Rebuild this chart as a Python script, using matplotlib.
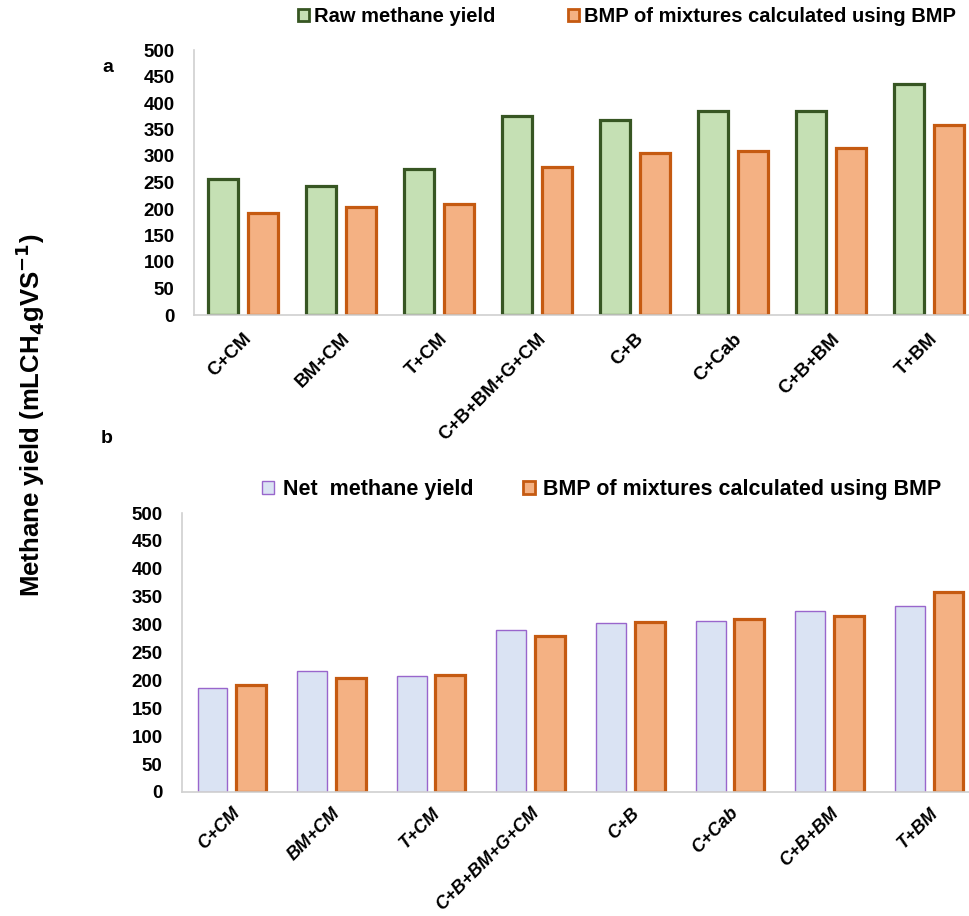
import numpy as np
import matplotlib
matplotlib.use("Agg")
import matplotlib.pyplot as plt
from matplotlib.patches import Patch

plt.rcParams['font.family'] = ['Liberation Sans', 'DejaVu Sans']

mixtures = ["C+CM", "BM+CM", "T+CM", "C+B+BM+G+CM", "C+B", "C+Cab", "C+B+BM", "T+BM"]
raw_yield = [256, 243, 275, 375, 367, 384, 384, 435]
bmp_calc = [192, 204, 209, 279, 305, 310, 315, 358]
net_yield = [186, 216, 207, 290, 302, 307, 325, 334]
yticks = [0, 50, 100, 150, 200, 250, 300, 350, 400, 450, 500]

W, H = 970, 916
fig = plt.figure(figsize=(W / 100, H / 100), dpi=100)

x = np.arange(len(mixtures))

# panel a
ax1 = fig.add_axes([194 / W, 1 - 315 / H, 784 / W, 265 / H])
ax1.bar(x - 0.204, raw_yield, 0.31, color="#c5e0b4", edgecolor="#375623", linewidth=2.3)
ax1.bar(x + 0.204, bmp_calc, 0.31, color="#f4b183", edgecolor="#c55a11", linewidth=2.3)
ax1.set_xticks(x)
ax1.set_xticklabels(mixtures, rotation=45, ha="right", rotation_mode="anchor",
                    fontsize=13.5, fontweight="bold")
ax1.tick_params(axis="x", pad=11)

# panel b
ax2 = fig.add_axes([182 / W, 1 - 792 / H, 797 / W, 279 / H])
ax2.bar(x - 0.194, net_yield, 0.30, color="#dae3f3", edgecolor="#9966cc", linewidth=1.0)
ax2.bar(x + 0.194, bmp_calc, 0.30, color="#f4b183", edgecolor="#c55a11", linewidth=2.3)
ax2.set_xticks(x)
ax2.set_xticklabels(mixtures, rotation=45, ha="right", rotation_mode="anchor",
                    fontsize=13, fontweight="bold", fontstyle="italic")
ax2.tick_params(axis="x", pad=9)

for ax in (ax1, ax2):
    ax.set_xlim(-0.5, 7.5)
    ax.set_ylim(0, 500)
    ax.set_yticks(yticks)
    ax.set_yticklabels([str(v) for v in yticks], fontsize=13.5, fontweight="bold")
    ax.tick_params(length=0)
    ax.tick_params(axis="y", pad=14)
    for s in ("top", "right"):
        ax.spines[s].set_visible(False)
    for s in ("left", "bottom"):
        ax.spines[s].set_color("#d0d0d0")
        ax.spines[s].set_linewidth(1.2)

# legends
leg1 = fig.legend(handles=[Patch(facecolor="#c5e0b4", edgecolor="#375623", linewidth=2),
                           Patch(facecolor="#f4b183", edgecolor="#c55a11", linewidth=2)],
                  labels=["Raw methane yield", "BMP of mixtures calculated using BMP"],
                  loc="center left", bbox_to_anchor=(280 / W, 1 - 17 / H), ncol=2,
                  frameon=False, handlelength=0.55, handleheight=0.55, handletextpad=0.25,
                  columnspacing=3.6, prop={"weight": "bold", "size": 14.5})

leg2 = fig.legend(handles=[Patch(facecolor="#dae3f3", edgecolor="#9966cc", linewidth=1),
                           Patch(facecolor="#f4b183", edgecolor="#c55a11", linewidth=2)],
                  labels=["Net  methane yield", "BMP of mixtures calculated using BMP"],
                  loc="center left", bbox_to_anchor=(243 / W, 1 - 490 / H), ncol=2,
                  frameon=False, handlelength=0.55, handleheight=0.55, handletextpad=0.4,
                  columnspacing=2.3, prop={"weight": "bold", "size": 15.5})

fig.text(108 / W, 1 - 68 / H, "a", fontsize=14, fontweight="bold", ha="center", va="center")
fig.text(107 / W, 1 - 438 / H, "b", fontsize=14, fontweight="bold", ha="center", va="center")

fig.text(30 / W, 1 - 415 / H, r"Methane yield (mLCH$_\mathbf{4}$gVS$^\mathbf{-1}$)",
         rotation=90, fontsize=18.5, fontweight="bold", ha="center", va="center")

fig.savefig("out.png", dpi=100)
